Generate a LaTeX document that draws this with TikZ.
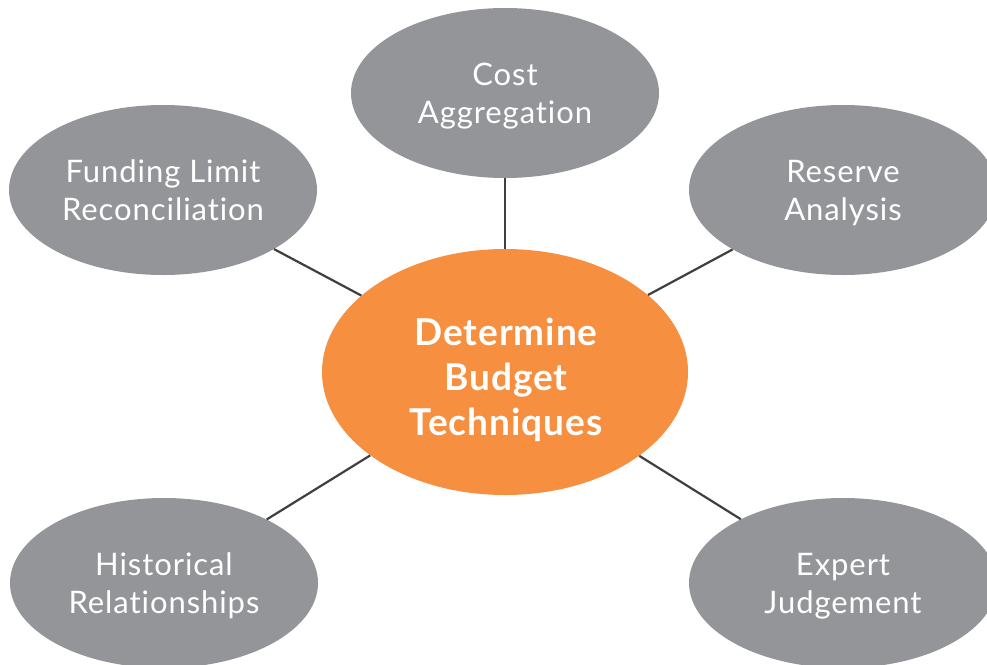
\documentclass[tikz,border=0pt]{standalone}
\usepackage{fontspec}
\setmainfont{Lato}[Ligatures={NoCommon}, LetterSpace=3]
\newfontfamily\hubfont{Lato}[Ligatures={NoCommon}, LetterSpace=2.5, BoldFont={Lato Bold}]
\usetikzlibrary{shapes.geometric}
\definecolor{leafgray}{HTML}{939598}
\definecolor{huborange}{HTML}{F68F3F}
\definecolor{linkgray}{HTML}{3F3F41}
\tikzset{
  leaf/.style={ellipse, fill=leafgray, text=white, minimum width=308pt, minimum height=170pt, inner sep=0pt, text depth=0pt, align=center, font=\fontsize{31}{38}\selectfont},
  hub/.style={ellipse, fill=huborange, minimum width=366pt, minimum height=246pt, inner sep=0pt},
  hubtext/.style={text=white, align=center, inner sep=0pt, font=\hubfont\bfseries\fontsize{37}{45}\selectfont},
  link/.style={draw=linkgray, line width=2.2pt}
}
\begin{document}
\begin{tikzpicture}[x=1pt,y=-1pt]
\useasboundingbox (0,0) rectangle (987,664);
\node[hub] (hub) at (505,372) {};
\node[hubtext] (hubtext) at (506,380) {Determine\\Budget\\Techniques};
\node[leaf] (cost) at (505,93) {Cost\\Aggregation};
\node[leaf] (fund) at (163,190) {Funding Limit\\Reconciliation};
\node[leaf] (reserve) at (843,190) {Reserve\\Analysis};
\node[leaf] (hist) at (164,583) {Historical\\Relationships};
\node[leaf] (expert) at (843,583) {Expert\\Judgement};
\draw[link] (hub) -- (cost);
\draw[link] (hub) -- (fund);
\draw[link] (hub) -- (reserve);
\draw[link] (hub) -- (hist);
\draw[link] (hub) -- (expert);
\end{tikzpicture}
\end{document}
